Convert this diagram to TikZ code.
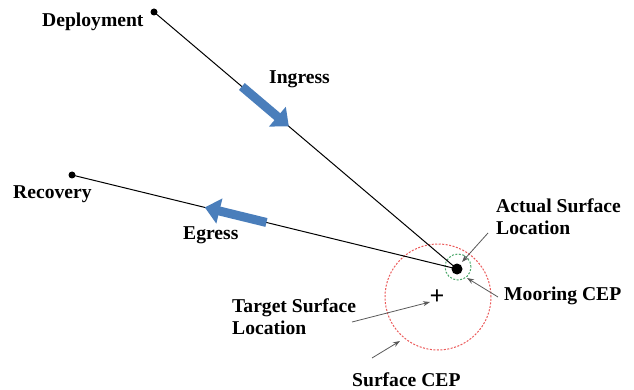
\documentclass[tikz,border=0pt]{standalone}
\usepackage{fontspec}
\setmainfont{Liberation Serif}
\usetikzlibrary{arrows.meta,calc}
\definecolor{arrowblue}{RGB}{74,126,187}
\definecolor{cepred}{RGB}{235,90,90}
\definecolor{cepgreen}{RGB}{80,170,110}
\tikzset{
  lbl/.style={font=\fontsize{19.6}{22}\selectfont\bfseries, inner sep=0pt, align=left},
  dot/.style={circle, fill=black, inner sep=0pt, minimum size=#1},
  track/.style={draw=black, line width=1pt},
  bigarrow/.style={draw=arrowblue, line width=9pt, -{Triangle[length=15pt,width=25pt]}},
  pointer/.style={draw=gray!70!black, line width=0.8pt, -{Stealth[length=7pt,width=5pt]}},
  cep/.style={circle, draw=#1, dash pattern=on 2pt off 1.5pt, line width=1pt, inner sep=0pt}
}
\begin{document}
\begin{tikzpicture}[x=1pt,y=-1pt]
\useasboundingbox (0,0) rectangle (634,390);
% points
\node[dot=7pt] (dep) at (154,12) {};
\node[dot=7pt] (rec) at (72,175) {};
\node[dot=11pt] (moor) at (457,269) {};
% CEP circles
\node[cep=cepred, minimum size=106pt] (scep) at (438,297) {};
\node[cep=cepgreen, minimum size=26pt] (mcep) at (458,267) {};
\node[font=\fontsize{26}{26}\selectfont\bfseries, inner sep=0pt] (target) at (437,297) {+};
% tracks
\draw[track] (dep.center) -- (moor.center);
\draw[track] (rec.center) -- (moor.center);
% big arrows
\coordinate (ingA) at ($(dep.center)!0.29!(moor.center)$);
\coordinate (ingB) at ($(dep.center)!0.445!(moor.center)$);
\draw[bigarrow] (ingA) -- (ingB);
\coordinate (egA) at ($(rec.center)!0.505!(moor.center)$);
\coordinate (egB) at ($(rec.center)!0.345!(moor.center)$);
\draw[bigarrow] (egA) -- (egB);
% labels
\node[lbl, anchor=west] (ldep) at (42,22) {Deployment};
\node[lbl, anchor=west] (ling) at (269,79) {Ingress};
\node[lbl, anchor=west] (lrec) at (13,194) {Recovery};
\node[lbl, anchor=west] (leg) at (183,235) {Egress};
\node[lbl, anchor=north west] (lact) at (496,198) {Actual Surface\\Location};
\node[lbl, anchor=west] (lmoor) at (504,296) {Mooring CEP};
\node[lbl, anchor=north west] (ltarget) at (232,298) {Target Surface\\Location};
\node[lbl, anchor=west] (lscep) at (352,380) {Surface CEP};
% pointers
\coordinate (pactS) at (488,233);
\coordinate (pactE) at (462,262);
\draw[pointer] (pactS) -- (pactE);
\coordinate (pmoorS) at (498,297);
\coordinate (pmoorE) at (467,278);
\draw[pointer] (pmoorS) -- (pmoorE);
\coordinate (ptarS) at (352,322);
\coordinate (ptarE) at (430,302);
\draw[pointer] (ptarS) -- (ptarE);
\coordinate (pscepS) at (372,358);
\coordinate (pscepE) at (400,341);
\draw[pointer] (pscepS) -- (pscepE);
\end{tikzpicture}
\end{document}
